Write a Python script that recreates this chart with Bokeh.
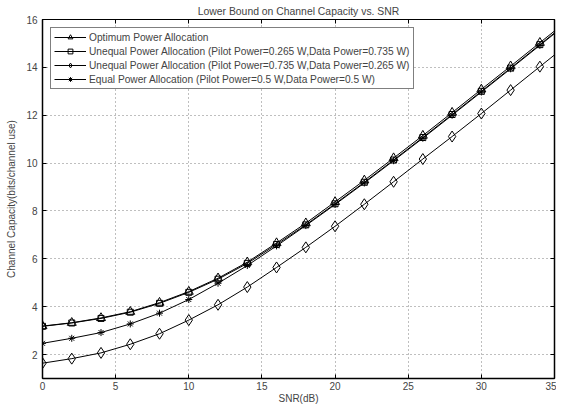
from bokeh.plotting import figure
from bokeh.models import LinearAxis, FixedTicker, Legend, LegendItem, Range1d
from bokeh.embed import file_html
from bokeh.resources import INLINE

# ---- data ----
snr = [0, 2, 4, 6, 8, 10, 12, 14, 16, 18, 20, 22, 24, 26, 28, 30, 32, 34, 36]
optimum = [3.19, 3.33, 3.53, 3.79, 4.17, 4.63, 5.19, 5.86, 6.66, 7.49, 8.38, 9.28,
           10.21, 11.15, 12.11, 13.08, 14.05, 15.03, 16.01]
unequal_low_pilot = [3.18, 3.32, 3.51, 3.77, 4.14, 4.60, 5.15, 5.81, 6.60, 7.42, 8.30, 9.20,
                     10.13, 11.07, 12.03, 13.00, 13.97, 14.95, 15.93]
unequal_high_pilot = [1.64, 1.83, 2.07, 2.43, 2.87, 3.44, 4.08, 4.82, 5.64, 6.48, 7.36, 8.28,
                      9.22, 10.17, 11.11, 12.07, 13.05, 14.03, 15.01]
equal = [2.47, 2.68, 2.92, 3.28, 3.73, 4.30, 4.98, 5.72, 6.54, 7.39, 8.27, 9.17,
         10.10, 11.04, 12.00, 12.97, 13.94, 14.92, 15.90]

x_ticks = [0, 5, 10, 15, 20, 25, 30, 35]
y_ticks = [2, 4, 6, 8, 10, 12, 14, 16]

labels = ["Optimum Power Allocation",
          "Unequal Power Allocation (Pilot Power=0.265 W,Data Power=0.735 W)",
          "Unequal Power Allocation (Pilot Power=0.735 W,Data Power=0.265 W)",
          "Equal Power Allocation (Pilot Power=0.5 W,Data Power=0.5 W)"]

FONT = "Liberation Sans"

p = figure(width=556, height=406, output_backend="svg", toolbar_location=None,
           x_range=Range1d(0, 35), y_range=Range1d(1, 16),
           min_border_left=42, min_border_right=2, min_border_top=19, min_border_bottom=0)

p.title.text = "Lower Bound on Channel Capacity vs. SNR"
p.title.align = "center"
p.title.text_font = FONT
p.title.text_font_size = "10.4px"
p.title.text_font_style = "normal"
p.title.standoff = 5
p.title.offset = 0

p.outline_line_color = "black"
p.outline_line_width = 1
p.background_fill_color = "white"
p.border_fill_color = "white"

for ax, ticks in ((p.xaxis[0], x_ticks), (p.yaxis[0], y_ticks)):
    ax.ticker = FixedTicker(ticks=ticks)
    ax.major_tick_in = 4
    ax.major_tick_out = 0
    ax.minor_tick_line_color = None
    ax.axis_line_width = 1.5
    ax.major_label_text_font = FONT
    ax.major_label_text_font_size = "10px"
    ax.major_label_standoff = 5
    ax.axis_label_text_font = FONT
    ax.axis_label_text_font_size = "10px"
    ax.axis_label_text_font_style = "normal"
    ax.axis_label_standoff = 6

p.xaxis.axis_label = "SNR(dB)"
p.yaxis.axis_label = "Channel Capacity(bits/channel use)"
p.xaxis.major_label_standoff = 3
p.xaxis.axis_label_standoff = 0

# box ticks on top and right (no labels)
top = LinearAxis(ticker=FixedTicker(ticks=x_ticks), major_label_text_font_size="1px",
                 major_label_text_color=None,
                 major_label_standoff=0, major_tick_in=4, major_tick_out=0,
                 minor_tick_line_color=None, axis_line_width=1)
right = LinearAxis(ticker=FixedTicker(ticks=y_ticks), major_label_text_font_size="1px",
                   major_label_text_color=None,
                   major_label_standoff=0, major_tick_in=4, major_tick_out=0,
                   minor_tick_line_color=None, axis_line_width=1.5)
p.add_layout(top, "above")
p.add_layout(right, "right")

p.xgrid.ticker = FixedTicker(ticks=x_ticks)
p.ygrid.ticker = FixedTicker(ticks=y_ticks)
for g in (p.xgrid[0], p.ygrid[0]):
    g.grid_line_color = "#7f7f7f"
    g.grid_line_dash = "1 3"
    g.grid_line_width = 1

series = [
    (optimum, "triangle", 9),
    (unequal_low_pilot, "square", 6),
    (unequal_high_pilot, "diamond", 11),
    (equal, "asterisk", 7),
]
items = []
for (ys, marker, size), lab in zip(series, labels):
    l = p.line(snr, ys, line_color="black", line_width=1)
    s = p.scatter(snr, ys, marker=marker, size=size, line_color="black",
                  fill_color=None, line_width=1)
    items.append(LegendItem(label=lab, renderers=[l, s]))

legend = Legend(items=items, location="top_left", margin=8, padding=3,
                spacing=2, label_height=12, glyph_height=12, glyph_width=32,
                label_standoff=3, label_text_font=FONT, label_text_font_size="10.2px",
                border_line_color="black", border_line_width=1.5,
                background_fill_color="white", background_fill_alpha=1)
p.add_layout(legend, "center")

open("out.html", "w").write(file_html(p, INLINE))
